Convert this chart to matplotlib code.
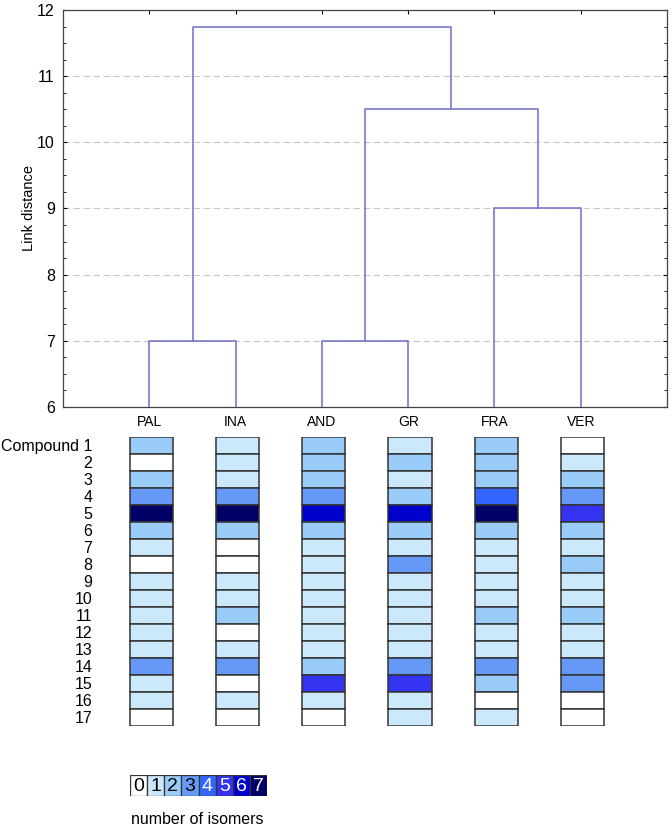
import matplotlib.pyplot as plt
from matplotlib.colors import ListedColormap
from matplotlib.ticker import MultipleLocator
import numpy as np

plt.rcParams['font.family'] = ['Liberation Sans', 'DejaVu Sans']

# leaves of the dendrogram, left to right
sites = ["PAL", "INA", "AND", "GR", "FRA", "VER"]

# pairs merged at these link distances
merge_pairs = [("PAL", "INA"), ("AND", "GR"), ("FRA", "VER")]
merge_heights = [7.0, 7.0, 9.0]
upper_merge_height = 10.5   # (AND,GR) with (FRA,VER)
top_merge_height = 11.75    # (PAL,INA) with the rest

# number of isomers per compound (rows 1..17) for each site
pal = [2, 0, 2, 3, 7, 2, 1, 0, 1, 1, 1, 1, 1, 3, 1, 1, 0]
ina = [1, 1, 1, 3, 7, 2, 0, 0, 1, 1, 2, 0, 1, 3, 0, 1, 0]
and_ = [2, 2, 2, 3, 6, 2, 1, 1, 1, 1, 1, 1, 1, 2, 5, 1, 0]
gr = [1, 2, 1, 2, 6, 2, 1, 3, 1, 1, 1, 1, 1, 3, 5, 1, 1]
fra = [2, 2, 2, 4, 7, 2, 1, 1, 1, 1, 2, 1, 1, 3, 2, 0, 1]
ver = [0, 1, 2, 3, 5, 2, 1, 2, 1, 1, 2, 1, 1, 3, 3, 0, 0]

compounds = ["Compound 1"] + [str(i) for i in range(2, 18)]
levels = list(range(8))
level_colors = ["#ffffff", "#cce9fc", "#99ccf8", "#6699f5", "#3366ff",
                "#3333f0", "#0000cc", "#000066"]

line_c = "#6e6ec8"
fig = plt.figure(figsize=(6.72, 8.30), dpi=100)

# ---- dendrogram ----
ax = fig.add_axes([0.094, 0.5096, 0.8986, 0.4784])
pos = {s: i + 1 for i, s in enumerate(sites)}
mids = []
for (a, b), h in zip(merge_pairs, merge_heights):
    xa, xb = pos[a], pos[b]
    ax.plot([xa, xa, xb, xb], [6, h, h, 6], color=line_c, lw=1.1)
    mids.append((xa + xb) / 2)
# AND-GR with FRA-VER
ax.plot([mids[1], mids[1], mids[2], mids[2]],
        [merge_heights[1], upper_merge_height, upper_merge_height, merge_heights[2]],
        color=line_c, lw=1.1)
m_up = (mids[1] + mids[2]) / 2
ax.plot([mids[0], mids[0], m_up, m_up],
        [merge_heights[0], top_merge_height, top_merge_height, upper_merge_height],
        color=line_c, lw=1.1)

ax.set_xlim(0, 7)
ax.set_ylim(6, 12)
ax.set_yticks(range(6, 13))
ax.yaxis.set_minor_locator(MultipleLocator(0.25))
ax.tick_params(axis='y', which='both', direction='in', right=True,
               labelsize=11.5, length=3, pad=6)
ax.tick_params(axis='y', which='minor', length=2)
ax.set_xticks([pos[s] for s in sites])
ax.set_xticklabels(sites, fontsize=10)
ax.tick_params(axis='x', direction='in', top=True, bottom=False, length=3, pad=6)
for y in range(7, 12):
    ax.axhline(y, color="#c8c8c8", lw=0.8, ls=(0, (6, 3)), zorder=0)
ax.set_ylabel("Link distance", fontsize=10.5, labelpad=1)
for sp in ax.spines.values():
    sp.set_color("#444444")
    sp.set_linewidth(0.9)

# ---- heatmap of isomer counts ----
cmap = ListedColormap(level_colors)
data = np.array([pal, ina, and_, gr, fra, ver])
hx = fig.add_axes([0.094, 0.1253, 0.8986, 0.3482])
hx.set_xlim(0, 7)
hx.set_ylim(17, 0)
hx.axis('off')
cell_w = 0.5
for i, s in enumerate(sites):
    for r, v in enumerate(data[i]):
        hx.add_patch(plt.Rectangle((pos[s] - cell_w / 2 + 0.02, r), cell_w, 1,
                                   facecolor=level_colors[v],
                                   edgecolor="#333333", lw=1.1))
for r, lab in enumerate(compounds):
    hx.text(0.34, r + 0.55, lab, ha='right', va='center', fontsize=11.5)

# ---- colour legend ----
lx = fig.add_axes([0.1935, 0.041, 0.204, 0.0253])
lx.set_xlim(0, 8)
lx.set_ylim(0, 1)
lx.axis('off')
for k in levels:
    lx.add_patch(plt.Rectangle((k, 0), 1, 1, facecolor=level_colors[k],
                               edgecolor="#333333", lw=0.9))
    lx.text(k + 0.5, 0.46, str(k), ha='center', va='center', fontsize=14,
            color='black' if k < 4 else 'white')
fig.text(0.293, 1 - 819 / 830, "number of isomers", ha='center', va='center',
         fontsize=11.5)

fig.savefig("out.png", dpi=100)
